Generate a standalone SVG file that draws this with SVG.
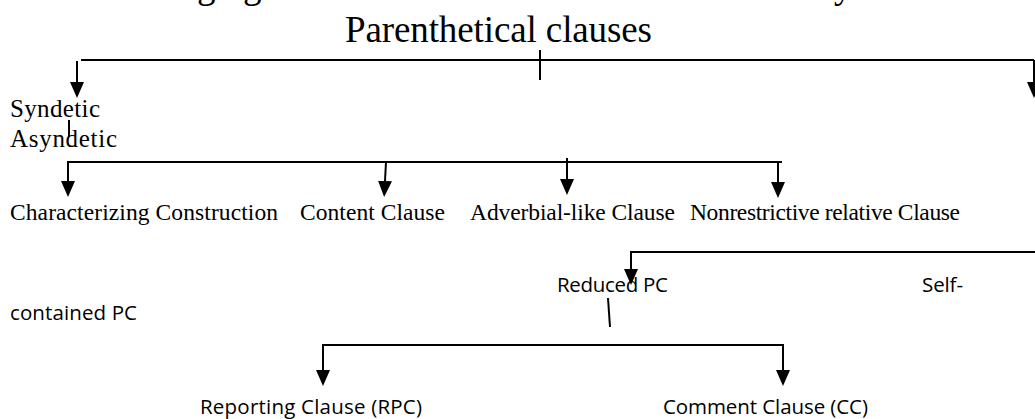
<svg xmlns="http://www.w3.org/2000/svg" width="1035" height="419" viewBox="0 0 1035 419">
  <style>
    .serif { font-family: "Liberation Serif", "Times New Roman", serif; fill: #000; }
    .sans { font-family: "Open Sans", "Noto Sans", sans-serif; fill: #000; }
    .ln { stroke: #000; stroke-width: 2; fill: none; }
    .arr { stroke: #000; stroke-width: 2; fill: none; marker-end: url(#head); }
  </style>
  <defs>
    <marker id="head" markerUnits="userSpaceOnUse" markerWidth="16" markerHeight="14" viewBox="0 0 16 14" refX="0" refY="7" orient="auto">
      <path d="M0,0 L16,7 L0,14 z" fill="#000"/>
    </marker>
  </defs>
  <rect width="1035" height="419" fill="#fff"/>

  <g id="clipped-line">
    <text class="serif" font-size="37" x="197" y="-2">g</text>
    <text class="serif" font-size="37" x="243" y="-2">g</text>
    <text class="serif" font-size="37" x="834" y="-2">y</text>
  </g>

  <g id="connectors">
    <path class="ln" d="M81,60 H1034"/>
    <path class="arr" d="M77,61 V82"/>
    <path class="arr" d="M1034,60 V82"/>
    <path class="ln" d="M540,50 V80"/>
    <path class="ln" d="M69,120 V137"/>
    <path class="ln" d="M68,162 H782"/>
    <path class="arr" d="M68,161 V181"/>
    <path class="arr" d="M386,162 L385,181"/>
    <path class="arr" d="M567,158 V179"/>
    <path class="arr" d="M778,162 V182"/>
    <path class="ln" d="M630,252 H1035"/>
    <path class="arr" d="M631,251 V269"/>
    <path class="ln" d="M608,298 L610,327"/>
    <path class="ln" d="M323,345 H783"/>
    <path class="arr" d="M323,344 V370"/>
    <path class="arr" d="M783,344 V370"/>
  </g>

  <g id="n-title">
    <text class="serif" font-size="37" x="345" y="42" textLength="307">Parenthetical clauses</text>
  </g>
  <g id="n-syndetic">
    <text class="serif" font-size="25" x="10" y="117" textLength="90">Syndetic</text>
  </g>
  <g id="n-asyndetic">
    <text class="serif" font-size="25" x="10" y="147" textLength="107">Asyndetic</text>
  </g>
  <g id="n-characterizing">
    <text class="serif" font-size="23.5" x="10" y="220" textLength="268">Characterizing Construction</text>
  </g>
  <g id="n-content">
    <text class="serif" font-size="23.5" x="300" y="220" textLength="145">Content Clause</text>
  </g>
  <g id="n-adverbial">
    <text class="serif" font-size="23.5" x="470" y="220" textLength="205">Adverbial-like Clause</text>
  </g>
  <g id="n-nonrestrictive">
    <text class="serif" font-size="23.5" x="690" y="220" textLength="270">Nonrestrictive relative Clause</text>
  </g>
  <g id="n-reduced">
    <text class="sans" font-size="20.5" x="557" y="292" textLength="111">Reduced PC</text>
  </g>
  <g id="n-selfcontained">
    <text class="sans" font-size="20.5" x="922" y="292" textLength="41">Self-</text>
    <text class="sans" font-size="20.5" x="10" y="320" textLength="127">contained PC</text>
  </g>
  <g id="n-reporting">
    <text class="sans" font-size="20.5" x="200" y="414" textLength="222">Reporting Clause (RPC)</text>
  </g>
  <g id="n-comment">
    <text class="sans" font-size="20.5" x="663" y="414" textLength="205">Comment Clause (CC)</text>
  </g>
</svg>
